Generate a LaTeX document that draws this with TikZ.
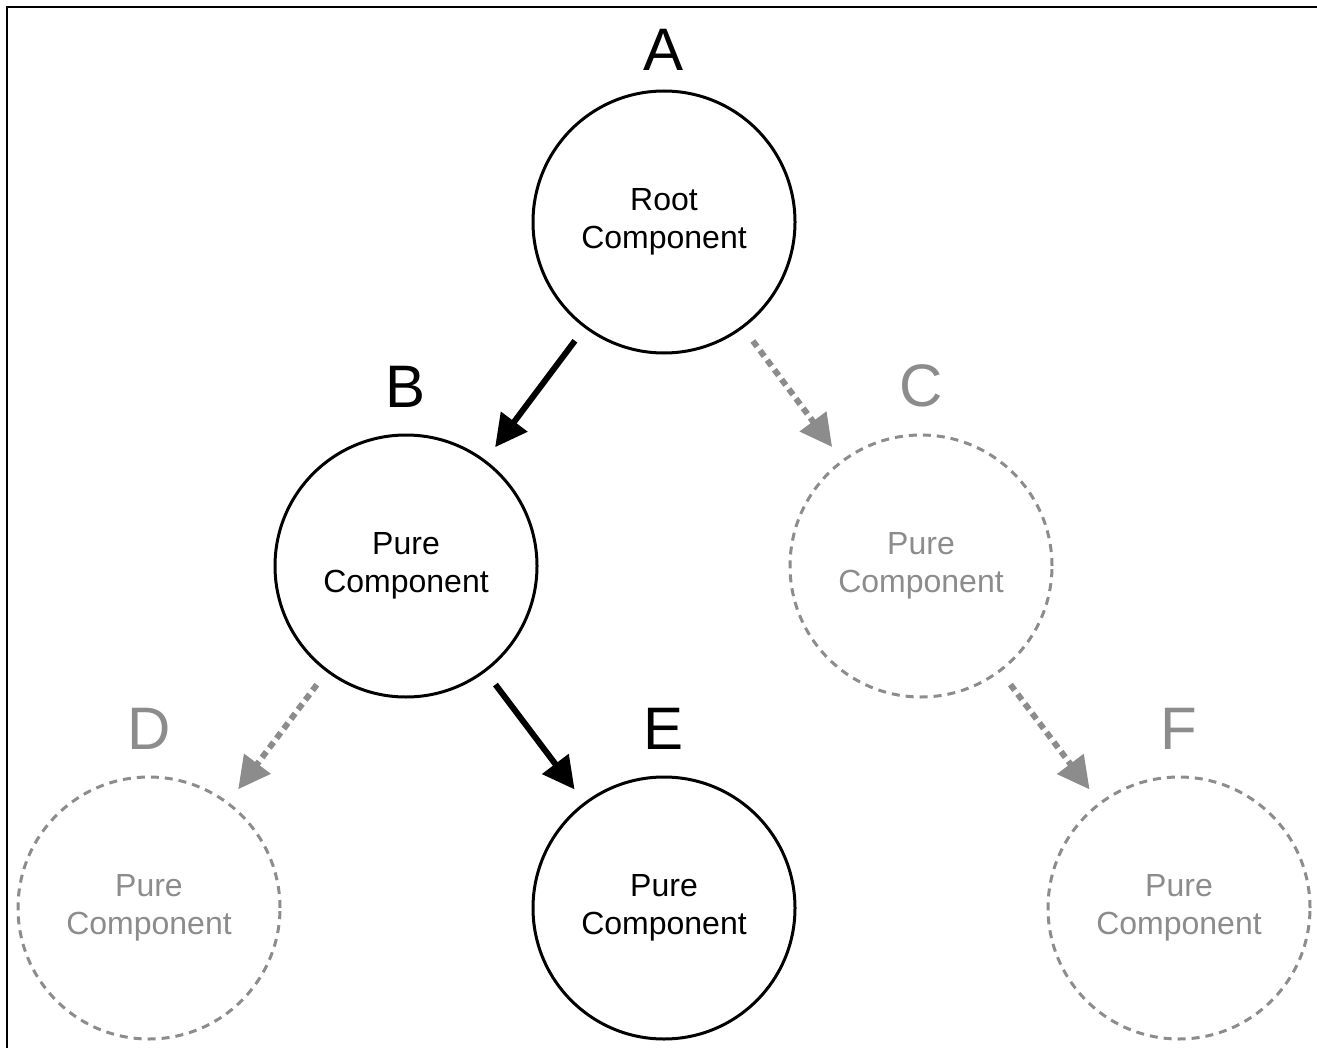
\documentclass[tikz,border=0pt]{standalone}
\usepackage{fontspec}
\setmainfont{Liberation Sans}
\usetikzlibrary{arrows.meta, positioning}
\definecolor{ghostgray}{HTML}{8C8C8C}

\begin{document}
\begin{tikzpicture}[x=0.5pt, y=-0.5pt, node distance=13pt,
	comp/.style={draw, circle, line width=1.5pt, minimum size=131pt, inner sep=0pt, align=center, font=\fontsize{16}{19}\selectfont},
	ghost/.style={comp, draw=ghostgray, text=ghostgray, dash pattern=on 4pt off 3pt},
	letter/.style={inner sep=0pt, font=\fontsize{30}{36}\selectfont},
	live/.style={-{Triangle[length=16pt,width=16pt]}, line width=3pt, shorten <=8pt, shorten >=8pt},
	dead/.style={live, draw=ghostgray, dash pattern=on 3.5pt off 2.5pt}]
	\useasboundingbox (0,0) rectangle (1317,1048);
	\draw[line width=1pt] (6.5,1048) -- (6.5,7.5) -- (1317,7.5);
	\node[comp] (a) at (664,222) {Root\\Component};
	\node[comp] (b) at (406,566) {Pure\\Component};
	\node[ghost] (c) at (921,566) {Pure\\Component};
	\node[ghost] (d) at (149,908) {Pure\\Component};
	\node[comp] (e) at (664,908) {Pure\\Component};
	\node[ghost] (f) at (1179,908) {Pure\\Component};
	\node[letter, above=9.5pt of a] (la) {A};
	\node[letter, above=of b] (lb) {B};
	\node[letter, text=ghostgray, above=of c] (lc) {C};
	\node[letter, text=ghostgray, above=of d] (ld) {D};
	\node[letter, above=of e] (le) {E};
	\node[letter, text=ghostgray, above=of f] (lf) {F};
	\draw[live] (a) -- (b);
	\draw[dead] (a) -- (c);
	\draw[dead] (b) -- (d);
	\draw[live] (b) -- (e);
	\draw[dead] (c) -- (f);
\end{tikzpicture}
\end{document}
